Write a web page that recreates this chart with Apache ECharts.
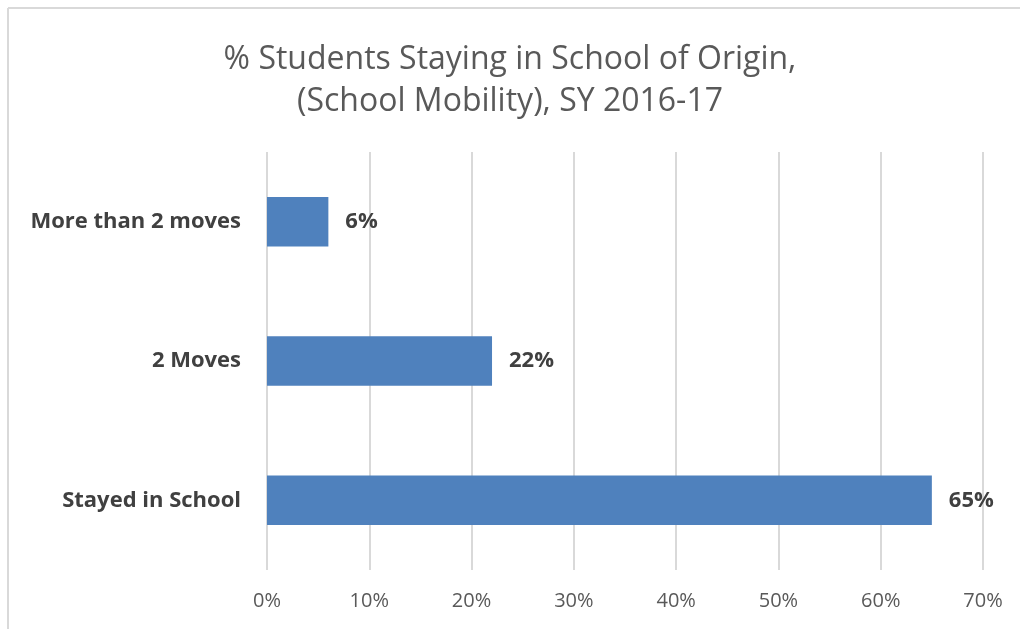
<!DOCTYPE html>
<html>
<head>
<meta charset="utf-8">
<script src="https://cdn.jsdelivr.net/npm/echarts@6/dist/echarts.min.js"></script>
<style>
html,body{margin:0;padding:0;background:#fff;}
#chart{width:1020px;height:629px;}
</style>
</head>
<body>
<div id="chart"></div>
<script>
var categories = ['Stayed in School', '2 Moves', 'More than 2 moves'];
var values = [65, 22, 6];
var xTicks = [0, 10, 20, 30, 40, 50, 60, 70];
var titleText = '% Students Staying in School of Origin,\n(School Mobility), SY 2016-17';

var font = 'Open Sans';
var chart = echarts.init(document.getElementById('chart'));
chart.setOption({
  animation: false,
  backgroundColor: '#fff',
  title: {
    text: titleText,
    left: 'center',
    top: 34,
    textStyle: {
      fontFamily: font,
      fontSize: 32,
      fontWeight: 'normal',
      color: '#595959',
      lineHeight: 42
    }
  },
  graphic: [
    {type: 'line', shape: {x1: 8, y1: 8, x2: 1020, y2: 8}, style: {stroke: '#d9d9d9', lineWidth: 2}},
    {type: 'line', shape: {x1: 8, y1: 8, x2: 8, y2: 629}, style: {stroke: '#d9d9d9', lineWidth: 2}}
  ],
  grid: {
    left: 267,
    right: 1020 - 983,
    top: 152,
    bottom: 629 - 570,
    containLabel: false
  },
  xAxis: {
    type: 'value',
    min: xTicks[0],
    max: xTicks[xTicks.length - 1],
    interval: 10,
    axisLine: {show: false},
    axisTick: {show: false},
    splitLine: {show: true, lineStyle: {color: '#d9d9d9', width: 2}},
    axisLabel: {
      formatter: '{value}%',
      fontFamily: font,
      fontSize: 20,
      color: '#595959',
      margin: 21
    }
  },
  yAxis: {
    type: 'category',
    data: categories,
    axisLine: {show: false},
    axisTick: {show: false},
    axisLabel: {
      fontFamily: font,
      fontSize: 22,
      fontWeight: 'bold',
      color: '#404040',
      margin: 26
    }
  },
  series: [{
    type: 'bar',
    data: values,
    barWidth: '35.5%',
    itemStyle: {color: '#4f81bd'},
    label: {
      show: true,
      position: 'right',
      distance: 17,
      formatter: '{c}%',
      fontFamily: font,
      fontSize: 22,
      fontWeight: 'bold',
      color: '#404040'
    }
  }]
});
</script>
</body>
</html>
